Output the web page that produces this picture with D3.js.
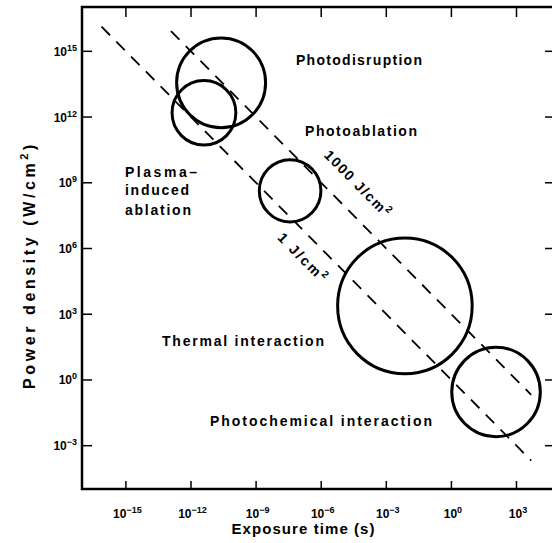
<!DOCTYPE html>
<html><head><meta charset="utf-8">
<script src="https://cdn.jsdelivr.net/npm/d3@7"></script>
<style>body{margin:0;background:#fff}</style>
</head><body><svg id="c" width="552" height="543"></svg>
<script>
// ---- data (log10 units) ----
const regimes = ["Photodisruption", "Photoablation", "Plasma-induced ablation", "Thermal interaction", "Photochemical interaction"];
const logTimeCenter  = [-10.59, -11.38, -7.41, -2.12, 2.08];
const logPowerCenter = [13.54, 12.17, 8.61, 3.36, -0.57];
const logRadius      = [2.05, 1.47, 1.42, 3.1, 2.04];

const xTickExps = [-15, -12, -9, -6, -3, 0, 3];
const yTickExps = [15, 12, 9, 6, 3, 0, -3];

const fluences = [1, 1000];
const fluenceLabels = ["1 J/cm", "1000 J/cm"];
const fluenceLogTStart = [-16.1, -12.9];
const fluenceLogTEnd = [3.7, 3.7];

// ---- drawing ----
const svg = d3.select("#c");
const font = "'Liberation Sans', Arial, sans-serif";
const L = 82, T = 7, B = 489;
const x = d3.scaleLog().domain([1e-17, 1e5]).range([L, L + 22 * 21.7]);
const y = d3.scaleLog().domain([1e-5, 1e17]).range([B, T]);

// frame
svg.append("rect").attr("x", L).attr("y", T).attr("width", 480).attr("height", B - T)
  .attr("fill", "none").attr("stroke", "#000").attr("stroke-width", 2.5);

const xt = xTickExps.map(e => Math.pow(10, e));
const yt = yTickExps.map(e => Math.pow(10, e));

function styleAxis(g) {
  g.select(".domain").remove();
  g.selectAll(".tick line").attr("stroke", "#000").attr("stroke-width", 1.5);
  g.selectAll(".tick text").remove();
}
svg.append("g").attr("transform", `translate(0,${B})`)
  .call(d3.axisBottom(x).tickValues(xt).tickSizeInner(-8).tickSizeOuter(0)).call(styleAxis);
svg.append("g").attr("transform", `translate(0,${T})`)
  .call(d3.axisTop(x).tickValues(xt).tickSizeInner(-10).tickSizeOuter(0)).call(styleAxis);
svg.append("g").attr("transform", `translate(${L},0)`)
  .call(d3.axisLeft(y).tickValues(yt).tickSizeInner(-10).tickSizeOuter(0)).call(styleAxis);
svg.append("g").attr("transform", `translate(552,0)`)
  .call(d3.axisRight(y).tickValues(yt).tickSizeInner(-7).tickSizeOuter(0)).call(styleAxis);

function expLabel(sel, e) {
  sel.append("tspan").text("10");
  sel.append("tspan").attr("dy", -5).attr("font-size", 9).text(e < 0 ? "−" + (-e) : String(e));
}
xTickExps.forEach(e => {
  const t = svg.append("text").attr("x", x(Math.pow(10, e)) + 2).attr("y", 518)
    .attr("text-anchor", "middle").attr("font-family", font).attr("font-size", 12).attr("font-weight", "bold");
  expLabel(t, e);
});
yTickExps.forEach(e => {
  const t = svg.append("text").attr("x", 77).attr("y", y(Math.pow(10, e)) + 5)
    .attr("text-anchor", "end").attr("font-family", font).attr("font-size", 12).attr("font-weight", "bold");
  expLabel(t, e);
});

// fluence lines
const line = d3.line().x(d => x(d[0])).y(d => y(d[1]));
fluences.forEach((F, i) => {
  const t0 = Math.pow(10, fluenceLogTStart[i]), t1 = Math.pow(10, fluenceLogTEnd[i]);
  svg.append("path").attr("d", line([[t0, F / t0], [t1, F / t1]]))
    .attr("fill", "none").attr("stroke", "#000").attr("stroke-width", 1.8)
    .attr("stroke-dasharray", "12,9");
});

// regime ellipses
regimes.forEach((r, i) => {
  const cx = x(Math.pow(10, logTimeCenter[i]));
  const cy = y(Math.pow(10, logPowerCenter[i]));
  const rx = x(Math.pow(10, logTimeCenter[i] + logRadius[i])) - cx;
  const ry = cy - y(Math.pow(10, logPowerCenter[i] + logRadius[i]));
  svg.append("ellipse").attr("cx", cx).attr("cy", cy).attr("rx", rx).attr("ry", ry)
    .attr("fill", "none").attr("stroke", "#000").attr("stroke-width", 3);
});

// labels
function label(txt, px, py, len, size) {
  return svg.append("text").attr("x", px).attr("y", py).attr("font-family", font)
    .attr("font-size", size || 14).attr("font-weight", "bold")
    .attr("textLength", len).attr("lengthAdjust", "spacing").text(txt);
}
label(regimes[0], 296, 65, 126);
label(regimes[1], 305, 136, 112);
label("Plasma–", 125, 177, 72);
label("induced", 125, 195, 64);
label("ablation", 125, 215, 66);
label(regimes[3], 162, 346, 162);
label(regimes[4], 210, 426, 222);

// fluence labels (with superscript 2)
const ang = Math.atan2(21.9, 21.7) * 180 / Math.PI;
[[303, 258, 2.2], [358, 184, 1.6]].forEach((p, i) => {
  const t = svg.append("text").attr("transform", `translate(${p[0]},${p[1]}) rotate(${ang})`)
    .attr("text-anchor", "middle").attr("dy", 5)
    .attr("font-family", font).attr("font-size", 14).attr("font-weight", "bold")
    .attr("letter-spacing", p[2]);
  t.append("tspan").text(fluenceLabels[i]);
  t.append("tspan").attr("dy", -6).attr("font-size", 10).text("2");
});

// axis titles
svg.append("text").attr("x", 303).attr("y", 534).attr("text-anchor", "middle")
  .attr("font-family", font).attr("font-size", 15).attr("font-weight", "bold")
  .attr("textLength", 143).attr("lengthAdjust", "spacing").text("Exposure time (s)");
const yt2 = svg.append("text").attr("transform", "translate(35,265) rotate(-90)").attr("text-anchor", "middle")
  .attr("font-family", font).attr("font-size", 16).attr("font-weight", "bold")
  .attr("letter-spacing", 3.6);
yt2.append("tspan").text("Power density (W/cm");
yt2.append("tspan").attr("dy", -7).attr("font-size", 11).text("2");
yt2.append("tspan").attr("dy", 7).text(")");
</script></body></html>
